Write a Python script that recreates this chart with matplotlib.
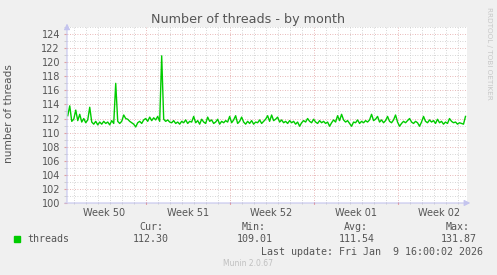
import matplotlib
matplotlib.use("Agg")
import matplotlib.pyplot as plt
import matplotlib.dates as mdates
import matplotlib.transforms as mtransforms
import pandas as pd

# 4-hourly samples of the thread count, Dec 7 12:00 -> Jan 9 16:00
threads = [
    112.4, 113.8, 111.6, 111.9, 113.2, 111.7, 112.6, 111.5, 112.0, 111.4,
    111.8, 113.6, 111.5, 111.2, 111.6, 111.1, 111.5, 111.2, 111.6, 111.3,
    111.5, 111.1, 111.7, 111.3, 117.0, 111.6, 111.3, 111.6, 112.5, 112.0,
    111.9, 111.6, 111.4, 111.2, 110.8, 111.4, 111.6, 111.3, 111.8, 112.0,
    111.6, 112.2, 111.7, 112.1, 111.8, 112.3, 111.6, 120.9, 111.9, 111.6,
    111.8, 111.5, 111.4, 111.7, 111.3, 111.5, 111.2, 111.6, 111.4, 111.8,
    111.3, 111.6, 111.5, 112.3, 111.4, 111.7, 111.2, 111.9, 111.5, 111.3,
    112.2, 111.6, 111.8, 111.3, 111.5, 111.9, 111.2, 111.6, 111.4, 111.7,
    111.5, 112.3, 111.4, 111.8, 112.4, 111.3, 111.6, 112.2, 111.5, 111.2,
    111.6, 111.3, 111.7, 111.2, 111.5, 111.4, 111.8, 111.3, 111.6, 111.9,
    112.4, 111.6, 112.5, 111.7, 111.9, 112.2, 111.5, 111.8, 111.4, 111.6,
    111.3, 111.7, 111.4, 111.6, 111.2, 111.5, 110.9, 111.4, 111.7, 111.5,
    112.0, 111.6, 111.4, 111.9, 111.5, 111.3, 111.7, 111.4, 111.6, 111.3,
    111.5, 110.9, 111.4, 111.8, 111.5, 112.4, 111.7, 112.6, 111.8, 111.5,
    111.7, 111.3, 110.9, 111.5, 111.4, 111.8, 111.3, 111.6, 111.4, 111.7,
    111.5, 111.8, 112.6, 111.7, 111.9, 112.3, 111.5, 111.8, 111.4, 111.7,
    112.3, 111.6, 111.4, 111.8, 112.5, 111.5, 110.9, 111.3, 111.6, 111.4,
    111.7, 112.0, 111.5, 111.3, 111.6, 111.4, 110.9, 111.5, 112.3, 111.6,
    111.4, 111.8, 111.5, 111.7, 111.3, 111.9, 111.4, 111.6, 111.2, 111.5,
    111.3, 112.0, 111.6, 111.4, 111.5, 111.2, 111.4, 111.3, 111.2, 112.3,
]
times = pd.date_range("2025-12-07 12:00", periods=len(threads), freq="4h")

week_labels = ["Week 50", "Week 51", "Week 52", "Week 01", "Week 02"]
week_label_pos = pd.to_datetime(["2025-12-10 12:00", "2025-12-17 12:00", "2025-12-24 12:00",
                                 "2025-12-31 12:00", "2026-01-07 12:00"])
stat_names = ["Cur:", "Min:", "Avg:", "Max:"]
stat_values = ["112.30", "109.01", "111.54", "131.87"]

GREEN = "#00cc00"
TXT = "#555555"
AXC = "#c4c4ee"

fig = plt.figure(figsize=(4.97, 2.75), dpi=100, facecolor="#f0f0f0")
ax = fig.add_axes([67 / 497, 72 / 275, 400 / 497, 176 / 275])
ax.set_facecolor("white")

ax.plot(times, threads, color=GREEN, lw=1.0, zorder=3)

ax.set_xlim(pd.Timestamp("2025-12-07 10:30"), pd.Timestamp("2026-01-09 19:00"))
ax.set_ylim(100, 125)

ax.xaxis.set_major_locator(mdates.WeekdayLocator(byweekday=mdates.SU))
ax.xaxis.set_minor_locator(mdates.DayLocator())
ax.xaxis.set_major_formatter(plt.NullFormatter())
ax.set_yticks(range(100, 125, 2))
ax.set_yticks(range(101, 126, 2), minor=True)

ax.grid(which="minor", color="#c8c8c8", linestyle=(0, (1, 2)), lw=0.6)
ax.grid(which="major", color="#e0a0a0", linestyle=(0, (1, 2)), lw=0.6)
ax.set_axisbelow(True)

ax.tick_params(axis="y", which="major", labelsize=7, labelcolor=TXT, length=2, color="#e0a0a0", pad=3)
ax.tick_params(axis="y", which="minor", length=2, color="#c8c8c8")
ax.tick_params(axis="x", which="major", length=2, color="#e06060", direction="inout")
ax.tick_params(axis="x", which="minor", length=2, color="#c8c8c8", direction="inout")

for s in ax.spines.values():
    s.set_visible(False)

# axis lines with arrows like rrdtool
ax.annotate("", xy=(0, 1.035), xytext=(0, -0.01), xycoords="axes fraction",
            arrowprops=dict(arrowstyle="-|>,head_length=0.35,head_width=0.18", color=AXC, lw=0.8),
            annotation_clip=False)
ax.annotate("", xy=(1.015, 0), xytext=(-0.012, 0), xycoords="axes fraction",
            arrowprops=dict(arrowstyle="-|>,head_length=0.35,head_width=0.18", color=AXC, lw=0.8),
            annotation_clip=False)

trans = ax.get_xaxis_transform()
for pos, lab in zip(week_label_pos, week_labels):
    ax.text(pos, -0.055, lab, transform=trans, ha="center", va="center", fontsize=7, color=TXT)

fig.text(248 / 497, 1 - 19 / 275, "Number of threads - by month", ha="center", va="center",
         fontsize=9.2, color=TXT)
fig.text(9 / 497, 1 - 114 / 275, "number of threads", rotation=90, ha="center", va="center",
         fontsize=7.6, color=TXT)
fig.text(489 / 497, 1 - 53 / 275, "RRDTOOL / TOBI OETIKER", rotation=270, ha="center", va="center",
         fontsize=5.2, color="#c8c8c8")

mono = "DejaVu Sans Mono"
fig.patches.append(plt.Rectangle((14 / 497, 1 - 242 / 275), 6 / 497, 6 / 275,
                                 transform=fig.transFigure, color=GREEN))
fig.text(27 / 497, 1 - 239 / 275, "threads", family=mono, fontsize=7.2, color=TXT, va="center")
name_right = [163, 266, 368, 470]
val_right = [169, 273, 375, 477]
for nm, v, nx, vx in zip(stat_names, stat_values, name_right, val_right):
    fig.text(nx / 497, 1 - 227 / 275, nm, family=mono, fontsize=7.2, color=TXT, ha="right", va="center")
    fig.text(vx / 497, 1 - 239 / 275, v, family=mono, fontsize=7.2, color=TXT, ha="right", va="center")
fig.text(483 / 497, 1 - 252 / 275, "Last update: Fri Jan  9 16:00:02 2026", family=mono,
         fontsize=7.2, color=TXT, ha="right", va="center")
fig.text(248 / 497, 1 - 263 / 275, "Munin 2.0.67", fontsize=5.5, color="#c0c0c0", ha="center", va="center")

fig.savefig("out.png", dpi=100, facecolor=fig.get_facecolor())
